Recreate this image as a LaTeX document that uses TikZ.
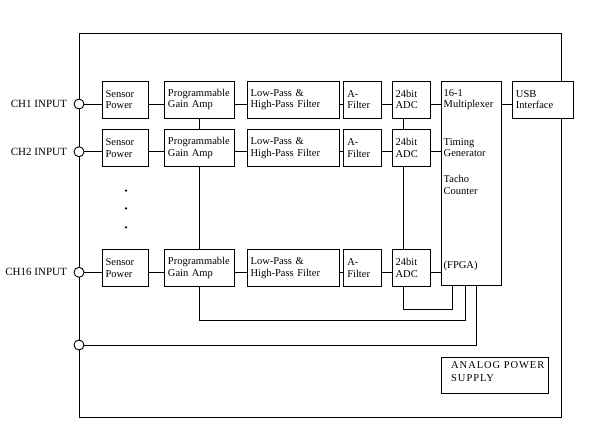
\documentclass[tikz,border=0pt]{standalone}
\usepackage{fontspec}
\setmainfont{Liberation Serif}
\newfontfamily\apsfont[LetterSpace=9]{Liberation Serif}
\tikzset{
  blk/.style={draw, fill=white, line width=0.9pt, anchor=north west, inner xsep=3.5pt, inner ysep=0pt, align=left, font=\fontsize{10.5}{11.3}\selectfont},
  port/.style={draw, circle, fill=white, minimum size=10pt, inner sep=0pt, line width=0.9pt},
  wire/.style={line width=0.9pt},
  lbl/.style={anchor=east, inner sep=0pt, font=\fontsize{11}{13}\selectfont},
  muxtxt/.style={anchor=west, inner sep=0pt, align=left, font=\fontsize{10.5}{11.3}\selectfont},
  dotn/.style={circle, fill=black, minimum size=2.5pt, inner sep=0pt},
  plain/.style={draw, line width=0.9pt, anchor=north west, inner sep=0pt},
}
\newcommand\blkat[7]{\node[blk, minimum width=#4pt, minimum height=#5pt, text width=#6pt] (#1) at (#2,#3) {#7};}
\begin{document}
\begin{tikzpicture}[x=1pt,y=-1pt]
\useasboundingbox (0,0) rectangle (593,445);
% outer frame
\node[plain, minimum width=481.7pt, minimum height=383.7pt] (frame) at (79,33) {};
% multiplexer / FPGA block
\node[blk, minimum width=60.3pt, minimum height=204pt] (mux) at (440.7,81) {};
\node[muxtxt] (mt1) at (443.5,99.3) {16-1\\Multiplexer};
\node[muxtxt] (mt2) at (443.5,147.7) {Timing\\Generator};
\node[muxtxt] (mt3) at (443.5,185) {Tacho\\Counter};
\node[muxtxt] (mt4) at (443.5,266) {(FPGA)};
\blkat{usb}{512}{81}{61}{36.7}{54}{USB\\Interface}
\draw[wire] (mux.east |- 0,104) -- (usb.west |- 0,104);
% channels
\foreach \r/\t/\ly in {1/81/104, 2/129.3/151.7, 16/249.3/272.3}{
  \blkat{sp\r}{101.7}{\t}{46.6}{36.5}{39.6}{Sensor\\Power}
  \blkat{pga\r}{164}{\t}{70}{36.5}{63}{Programmable\\Gain Amp}
  \blkat{lpf\r}{246.7}{\t}{92.6}{36.5}{85.6}{Low-Pass \&\\High-Pass Filter}
  \blkat{af\r}{343.3}{\t}{37.7}{36.5}{30.7}{A-\\Filter}
  \blkat{adc\r}{391.7}{\t}{38.3}{36.5}{31.3}{24bit\\ADC}
  \node[port] (ch\r) at (79,\ly) {};
  \node[lbl] (lab\r) at (67,\ly) {CH\r{} INPUT};
  \draw[wire] (ch\r.east) -- (sp\r.west |- ch\r);
  \draw[wire] (sp\r.east |- ch\r) -- (pga\r.west |- ch\r);
  \draw[wire] (pga\r.east |- ch\r) -- (lpf\r.west |- ch\r);
  \draw[wire] (lpf\r.east |- ch\r) -- (af\r.west |- ch\r);
  \draw[wire] (af\r.east |- ch\r) -- (adc\r.west |- ch\r);
  \draw[wire] (adc\r.east |- ch\r) -- (mux.west |- ch\r);
}
% dots
\node[dotn] (d1) at (126,190.7) {};
\node[dotn] (d2) at (126,208.3) {};
\node[dotn] (d3) at (126,227.3) {};
% vertical buses
\coordinate (adcx) at (403.7,0);
\draw[wire] (pga1.south) -- (pga2.north);
\draw[wire] (pga2.south) -- (pga16.north);
\draw[wire] (adc1.south -| adcx) -- (adc2.north -| adcx);
\draw[wire] (adc2.south -| adcx) -- (adc16.north -| adcx);
\coordinate (fx1) at (452.7,309.3);
\coordinate (fx2) at (465,320.7);
\coordinate (fx3) at (476.7,345);
\draw[wire] (adc16.south -| adcx) |- (fx1) -- (fx1 |- mux.south);
\draw[wire] (pga16.south) |- (fx2) -- (fx2 |- mux.south);
\node[port] (pwr) at (79,345) {};
\draw[wire] (pwr.east) -- (fx3) -- (fx3 |- mux.south);
% analog power supply
\node[plain, minimum width=107.6pt, minimum height=36pt] (aps) at (440.7,357.3) {};
\node[anchor=north west, inner sep=0pt, align=left, font=\apsfont\fontsize{10.5}{12.8}\selectfont] (apst) at (451,361.5) {ANALOG POWER\\SUPPLY};
\end{tikzpicture}
\end{document}
